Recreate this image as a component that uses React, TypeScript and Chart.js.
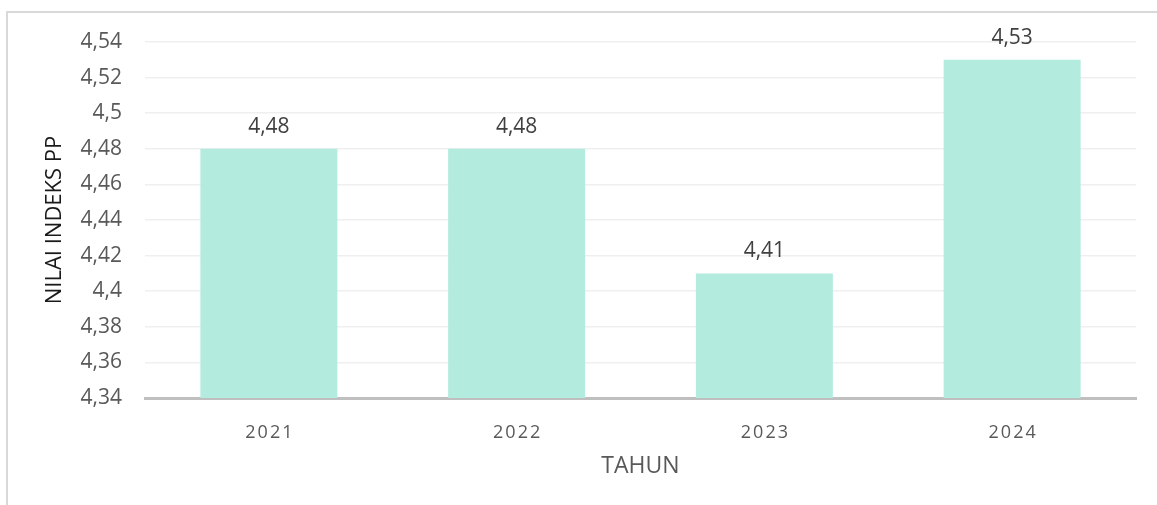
import React, { useEffect, useRef } from "react";
import { Chart, registerables } from "chart.js";

Chart.register(...registerables);

const categories: string[] = ["2021", "2022", "2023", "2024"];
const values: number[] = [4.48, 4.48, 4.41, 4.53];
const yMin = 4.34;
const yMax = 4.54;
const yStep = 0.02;
const xTitle = "TAHUN";
const yTitle = "NILAI INDEKS PP";

const FONT = "'Open Sans', 'Noto Sans', sans-serif";

const fmt = (v: number): string => {
  const s = (Math.round(v * 100) / 100).toString();
  return s.replace(".", ",");
};

const labelPlugin = {
  id: "customLabels",
  afterDatasetsDraw(chart: any) {
    const ctx = chart.ctx;
    const meta = chart.getDatasetMeta(0);
    ctx.save();
    ctx.font = `21px ${FONT}`;
    ctx.fillStyle = "#404040";
    ctx.textAlign = "center";
    ctx.textBaseline = "middle";
    meta.data.forEach((el: any, i: number) => {
      ctx.fillText(fmt(values[i]), el.x, el.y - 22);
    });
    ctx.restore();
  },
  afterDraw(chart: any) {
    const ctx = chart.ctx;
    const xs = chart.scales.x;
    ctx.save();
    ctx.font = `18px ${FONT}`;
    ctx.fillStyle = "#595959";
    ctx.textAlign = "center";
    ctx.textBaseline = "middle";
    try {
      (ctx as any).letterSpacing = "2px";
    } catch (e) {}
    categories.forEach((c, i) => {
      ctx.fillText(c, xs.getPixelForValue(i) + 1, 433);
    });
    ctx.restore();
  },
};

export default function App() {
  const ref = useRef<HTMLCanvasElement | null>(null);

  useEffect(() => {
    if (!ref.current) return;
    const chart = new Chart(ref.current, {
      type: "bar",
      data: {
        labels: categories,
        datasets: [
          {
            data: values,
            backgroundColor: "#b3ecdf",
            borderWidth: 0,
            barPercentage: 0.553,
            categoryPercentage: 1,
          },
        ],
      },
      options: {
        animation: false,
        responsive: false,
        maintainAspectRatio: false,
        layout: { padding: { left: 40, right: 21, top: 42, bottom: 25 } },
        plugins: {
          legend: { display: false },
          tooltip: { enabled: false },
        },
        scales: {
          x: {
            grid: { display: false, drawTicks: false },
            border: { display: true, color: "#bfbfbf", width: 3 },
            ticks: { display: false },
            title: {
              display: true,
              text: xTitle,
              color: "#595959",
              font: { family: FONT, size: 23 },
              padding: { top: 0, bottom: 0 },
            },
            afterFit(scale: any) {
              scale.height = 82;
              scale.paddingLeft = 0;
              scale.paddingRight = 0;
            },
          },
          y: {
            min: yMin,
            max: yMax,
            grid: { color: "#efefef", lineWidth: 1.5, drawTicks: false },
            border: { display: false },
            ticks: {
              stepSize: yStep,
              padding: 23,
              color: "#595959",
              font: { family: FONT, size: 21 },
              callback: (v: any) => fmt(Number(v)),
            },
            title: {
              display: true,
              text: yTitle,
              color: "#1a1a1a",
              font: { family: FONT, size: 22 },
              padding: { top: 2, bottom: 0 },
            },
            afterFit(scale: any) {
              scale.width = 105;
              scale.paddingTop = 0;
              scale.paddingBottom = 0;
            },
          },
        },
      },
      plugins: [labelPlugin],
    });
    return () => chart.destroy();
  }, []);

  return (
    <div
      style={{
        position: "absolute",
        left: 0,
        top: 0,
        width: 1157,
        height: 505,
        overflow: "hidden",
        background: "#ffffff",
      }}
    >
      <div
        style={{
          position: "absolute",
          left: 6,
          top: 11,
          width: 1200,
          height: 600,
          border: "2px solid #d9d9d9",
          boxSizing: "border-box",
        }}
      />
      <canvas
        ref={ref}
        width={1157}
        height={505}
        style={{ position: "absolute", left: 0, top: 0, width: 1157, height: 505 }}
      />
    </div>
  );
}
